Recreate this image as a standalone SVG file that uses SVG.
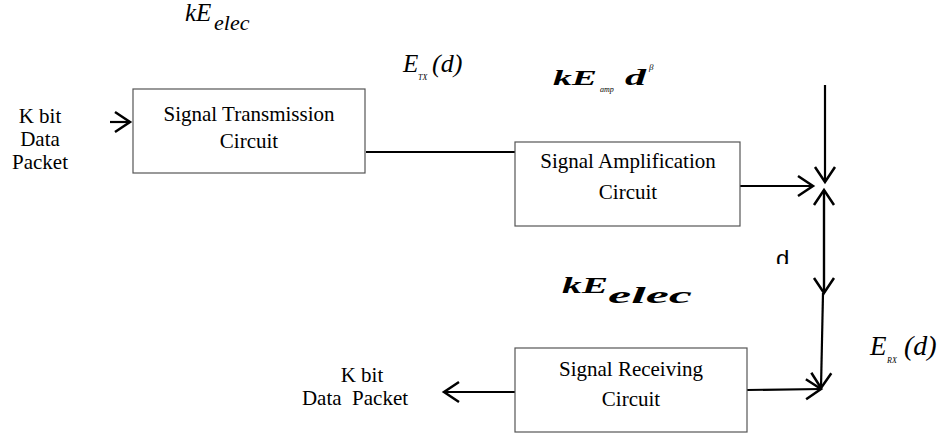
<svg xmlns="http://www.w3.org/2000/svg" width="952" height="437" viewBox="0 0 952 437">
<style>
.box{fill:#fff;stroke:#555;stroke-width:1.2}
.t{font-family:"Liberation Serif","Times New Roman",serif;font-size:21px;fill:#000}
.c{stroke:#000;stroke-width:2.2;fill:none}
.m{font-family:"Liberation Serif","Times New Roman",serif;font-style:italic;fill:#000}
.b{font-weight:bold}
</style>
<defs>
<marker id="ah" markerUnits="userSpaceOnUse" markerWidth="22" markerHeight="26" refX="17" refY="12" orient="auto">
<path d="M2,2 L17,12 L2,22" fill="none" stroke="#000" stroke-width="2.5"/>
</marker>
<clipPath id="dclip"><rect x="760" y="240" width="40" height="24"/></clipPath>
</defs>
<g id="connectors">
<line class="c" x1="110" y1="122" x2="130" y2="122" marker-end="url(#ah)"/>
<line class="c" x1="366" y1="152" x2="515" y2="152"/>
<line class="c" x1="740" y1="186" x2="813" y2="186" marker-end="url(#ah)"/>
<line class="c" x1="825" y1="85" x2="825" y2="182" marker-end="url(#ah)"/>
<line class="c" x1="824" y1="293" x2="824" y2="190" marker-end="url(#ah)"/>
<line class="c" x1="824" y1="190" x2="824" y2="293" marker-end="url(#ah)"/>
<line class="c" x1="823" y1="293" x2="821" y2="388" marker-end="url(#ah)"/>
<line class="c" x1="747" y1="390" x2="821" y2="389" marker-end="url(#ah)"/>
<line class="c" x1="515" y1="392" x2="444" y2="392" marker-end="url(#ah)"/>
</g>
<g id="input">
<text class="t" text-anchor="middle" x="40" y="123">K bit</text>
<text class="t" text-anchor="middle" x="40" y="146">Data</text>
<text class="t" text-anchor="middle" x="40" y="169">Packet</text>
</g>
<g id="transmission">
<rect class="box" x="133" y="89" width="232" height="84"/>
<text class="t" text-anchor="middle" x="249" y="121">Signal Transmission</text>
<text class="t" text-anchor="middle" x="249" y="148">Circuit</text>
</g>
<g id="amplification">
<rect class="box" x="515" y="142" width="225" height="84"/>
<text class="t" text-anchor="middle" x="628" y="168" font-size="20">Signal Amplification</text>
<text class="t" text-anchor="middle" x="628" y="199" font-size="20">Circuit</text>
</g>
<g id="receiving">
<rect class="box" x="515" y="348" width="232" height="84"/>
<text class="t" text-anchor="middle" x="631" y="376">Signal Receiving</text>
<text class="t" text-anchor="middle" x="631" y="406">Circuit</text>
</g>
<g id="output">
<text class="t" text-anchor="middle" x="362" y="382">K bit</text>
<text class="t" text-anchor="middle" x="355" y="405" xml:space="preserve">Data  Packet</text>
</g>
<g id="labels">
<text class="m" font-size="25" x="185" y="21">kE</text>
<text class="m" font-size="22" x="214" y="30">elec</text>
<text class="m" font-size="25" x="403" y="72">E</text>
<text class="m" font-size="8" x="418" y="80">TX</text>
<text class="m" font-size="26" x="432" y="72">(d)</text>
<text class="m b" font-size="22" x="553" y="85" textLength="44" lengthAdjust="spacingAndGlyphs">kE</text>
<text class="m" font-size="8" x="600" y="92">amp</text>
<text class="m b" font-size="23" x="625" y="85" textLength="21" lengthAdjust="spacingAndGlyphs">d</text>
<text class="m" font-size="9" x="649" y="70">β</text>
<g clip-path="url(#dclip)"><text font-family="Liberation Sans,Arial,sans-serif" font-size="24" x="776" y="267">d</text></g>
<text class="m b" font-size="24" x="562" y="293" textLength="46" lengthAdjust="spacingAndGlyphs">kE</text>
<text class="m b" font-size="24" x="608" y="303" textLength="84" lengthAdjust="spacingAndGlyphs">elec</text>
<text class="m" font-size="27" x="870" y="355">E</text>
<text class="m" font-size="8" x="887" y="363">RX</text>
<text class="m" font-size="28" x="904" y="355">(d)</text>
</g>
</svg>
